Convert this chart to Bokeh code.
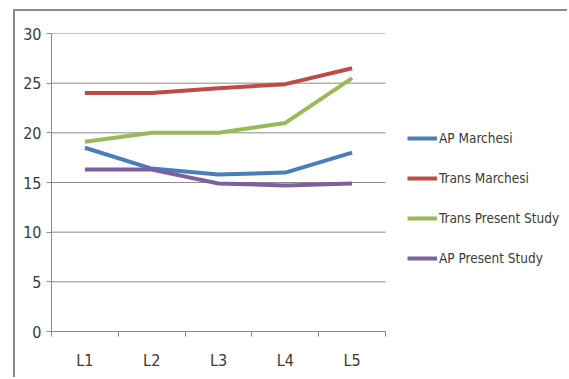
from bokeh.plotting import figure
from bokeh.models import FixedTicker, Legend, LegendItem, Range1d
from bokeh.embed import file_html
from bokeh.resources import INLINE

categories = ["L1", "L2", "L3", "L4", "L5"]
ap_marchesi = [18.5, 16.4, 15.8, 16.0, 18.0]
trans_marchesi = [24.0, 24.0, 24.5, 24.9, 26.5]
trans_present = [19.1, 20.0, 20.0, 21.0, 25.5]
ap_present = [16.3, 16.3, 14.9, 14.7, 14.9]
y_ticks = [0, 5, 10, 15, 20, 25, 30]

series = [
    ("AP Marchesi", ap_marchesi, "#4A7EBB"),
    ("Trans Marchesi", trans_marchesi, "#BE4B48"),
    ("Trans Present Study", trans_present, "#98B954"),
    ("AP Present Study", ap_present, "#7D60A0"),
]

FONT = "'Liberation Sans Narrow', 'DejaVu Sans Condensed', sans-serif"
GRAY = "#8a8a8a"
TXT = "#3a3a3a"

n = len(categories)
xs = [i + 0.5 for i in range(n)]

W, H = 554, 368
OX, OY = 15, 11  # canvas origin inside the page (margin + border)
FL, FR, FT, FB = 51, 385, 33, 331  # plot area of the reference
x_end = n * ((OX + W) - FL) / (FR - FL)  # frame reaches canvas right edge (room for legend)

p = figure(width=W, height=H, output_backend="svg", toolbar_location=None,
           x_range=Range1d(0, x_end), y_range=Range1d(0, 30),
           min_border_left=FL - OX, min_border_right=0,
           min_border_top=FT - OY, min_border_bottom=(OY + H) - FB,
           margin=(9, 0, 0, 13),
           styles={"border-top": "2px solid #8a8a8a", "border-left": "2px solid #8a8a8a"})
p.outline_line_color = None
p.background_fill_color = "white"
p.border_fill_color = "white"

# horizontal gridlines limited to the category span
p.segment(x0=[0] * len(y_ticks), x1=[n] * len(y_ticks), y0=y_ticks, y1=y_ticks,
          line_color=GRAY, line_width=1)

renderers = []
for name, vals, col in series:
    r = p.line(xs, vals, line_color=col, line_width=4)
    renderers.append((name, r))

# axes
p.xaxis.bounds = (0, n)
p.xaxis.ticker = FixedTicker(ticks=xs, minor_ticks=list(range(n + 1)))
p.xaxis.major_label_overrides = {x: c for x, c in zip(xs, categories)}
p.xaxis.major_tick_out = 0
p.xaxis.major_tick_in = 0
p.xaxis.minor_tick_out = 5
p.xaxis.minor_tick_in = 0
p.xaxis.minor_tick_line_color = GRAY
p.xaxis.axis_line_color = GRAY
p.xaxis.major_label_standoff = 14

p.yaxis.ticker = FixedTicker(ticks=y_ticks)
p.yaxis.major_tick_out = 5
p.yaxis.major_tick_in = 0
p.yaxis.minor_tick_line_color = None
p.yaxis.major_tick_line_color = GRAY
p.yaxis.axis_line_color = GRAY
p.yaxis.major_label_standoff = 5

for ax in (p.xaxis[0], p.yaxis[0]):
    ax.major_label_text_font = FONT
    ax.major_label_text_font_size = "16px"
    ax.major_label_text_color = TXT

p.xgrid.visible = False
p.ygrid.visible = False

legend = Legend(items=[LegendItem(label=nm, renderers=[r]) for nm, r in renderers],
                location=(407 - FL, 63), orientation="vertical",
                glyph_width=30, glyph_height=20, label_height=20,
                spacing=20, padding=0, margin=0, label_standoff=2,
                border_line_alpha=0, background_fill_alpha=0,
                label_text_font=FONT, label_text_font_size="13.5px",
                label_text_color=TXT)
p.add_layout(legend)

open("out.html", "w").write(file_html(p, INLINE))
